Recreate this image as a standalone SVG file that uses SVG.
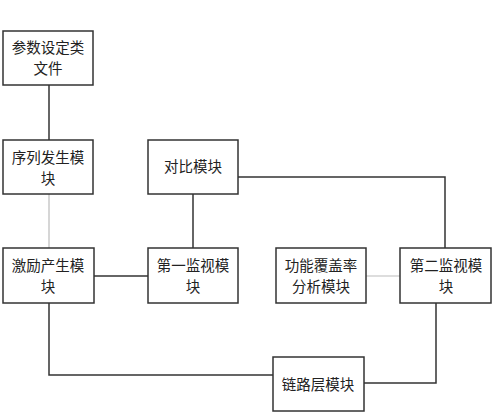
<svg xmlns="http://www.w3.org/2000/svg" width="500" height="413" viewBox="0 0 500 413">
<style>
.box{fill:#fff;stroke:#333;stroke-width:1.5}
.t{font-family:"Noto Sans CJK SC","Liberation Serif",serif;font-size:14.5px;fill:#222;text-anchor:middle}
.c{fill:none;stroke:#333;stroke-width:1.5}
.g{fill:none;stroke:#bbb;stroke-width:1.2}
</style>
<rect width="500" height="413" fill="#fff"/>
<g id="connectors">
<line class="c" x1="49" y1="85" x2="49" y2="140"/>
<line class="g" x1="49" y1="194" x2="49" y2="248"/>
<line class="c" x1="193" y1="194" x2="193" y2="248"/>
<line class="c" x1="94" y1="276" x2="148" y2="276"/>
<polyline class="c" points="238,177 445,177 445,248"/>
<line class="g" x1="366" y1="276" x2="400" y2="276"/>
<polyline class="c" points="49,303 49,375 273,375"/>
<polyline class="c" points="364,383 436,383 436,303"/>
</g>
<g id="n1"><rect class="box" x="3" y="31" width="90" height="54"/><text class="t" x="48" y="53">参数设定类</text><text class="t" x="48" y="74">文件</text></g>
<g id="n2"><rect class="box" x="3" y="140" width="90" height="54"/><text class="t" x="48" y="163">序列发生模</text><text class="t" x="48" y="184">块</text></g>
<g id="n3"><rect class="box" x="148" y="140" width="90" height="54"/><text class="t" x="193" y="172">对比模块</text></g>
<g id="n4"><rect class="box" x="3" y="248" width="91" height="55"/><text class="t" x="48" y="271">激励产生模</text><text class="t" x="48" y="292">块</text></g>
<g id="n5"><rect class="box" x="148" y="248" width="90" height="55"/><text class="t" x="193" y="271">第一监视模</text><text class="t" x="193" y="292">块</text></g>
<g id="n6"><rect class="box" x="276" y="248" width="90" height="55"/><text class="t" x="321" y="271">功能覆盖率</text><text class="t" x="321" y="292">分析模块</text></g>
<g id="n7"><rect class="box" x="400" y="248" width="91" height="55"/><text class="t" x="446" y="271">第二监视模</text><text class="t" x="446" y="292">块</text></g>
<g id="n8"><rect class="box" x="273" y="357" width="91" height="54"/><text class="t" x="318" y="390">链路层模块</text></g>
</svg>
